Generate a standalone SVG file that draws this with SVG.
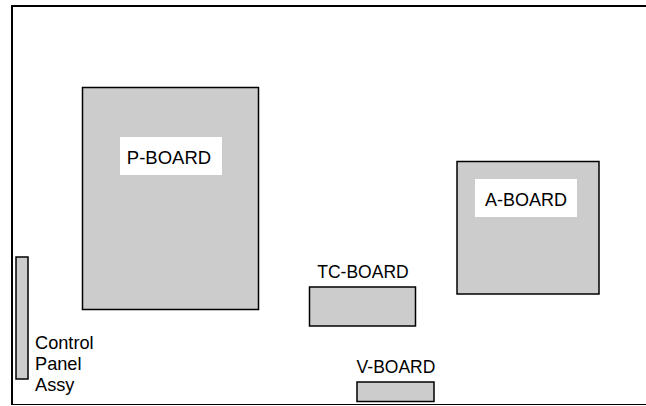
<svg xmlns="http://www.w3.org/2000/svg" width="646" height="406" viewBox="0 0 646 406">
<style>
.board{fill:#cccccc;stroke:#000;stroke-width:1.5}
.lbl{fill:#fff}
text{font-family:"Liberation Sans",Arial,sans-serif;font-size:17.5px;fill:#000}
.c{text-anchor:middle}
.cp{font-size:18.2px}
</style>
<rect width="646" height="406" fill="#fff"/>
<g id="frame">
<path d="M12,6 H646" stroke="#000" stroke-width="2" fill="none"/>
<path d="M12,5 V404" stroke="#000" stroke-width="2" fill="none"/>
<path d="M11,404.5 H646" stroke="#000" stroke-width="1.2" fill="none"/>
</g>
<g id="p-board">
<rect class="board" x="82.5" y="87.5" width="176" height="222"/>
<rect class="lbl" x="120" y="137" width="102" height="38"/>
<text class="c" x="169" y="163.5" style="font-size:18.5px">P-BOARD</text>
</g>
<g id="a-board">
<rect class="board" x="457" y="161.5" width="142" height="132.5"/>
<rect class="lbl" x="475" y="179" width="102" height="38"/>
<text class="c" x="526" y="205.5" style="font-size:18px">A-BOARD</text>
</g>
<g id="tc-board">
<rect class="board" x="309.5" y="287" width="106" height="39"/>
<text class="c" x="363" y="278">TC-BOARD</text>
</g>
<g id="v-board">
<rect class="board" x="357" y="382" width="77" height="19.5"/>
<text class="c" x="396" y="373">V-BOARD</text>
</g>
<g id="control-panel">
<rect class="board" x="16" y="257" width="12" height="122"/>
<text class="cp" x="35" y="349">Control</text>
<text class="cp" x="35" y="370">Panel</text>
<text class="cp" x="35" y="391">Assy</text>
</g>
<g id="connectors"></g>
</svg>
